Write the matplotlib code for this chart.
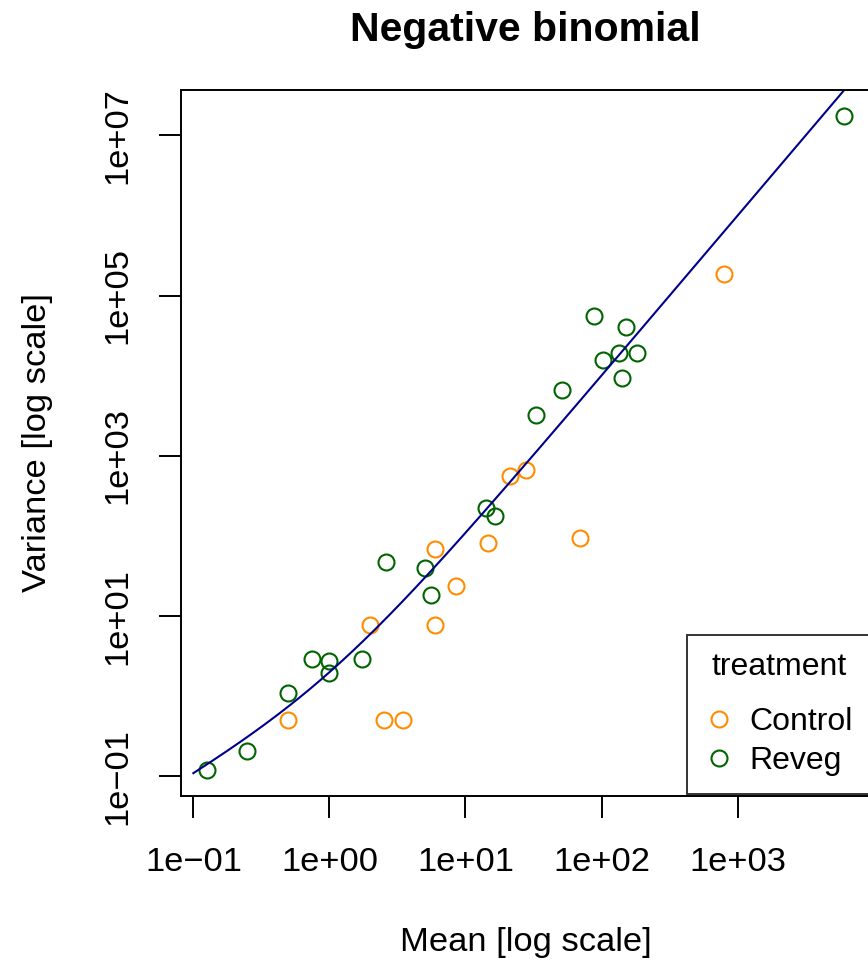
import numpy as np
import matplotlib
matplotlib.use('Agg')
import matplotlib.pyplot as plt
from matplotlib.lines import Line2D

plt.rcParams['font.family'] = ['Liberation Sans', 'DejaVu Sans']

# per-plot mean and variance, by treatment
control_mean = [0.5, 2.5, 3.5, 2.0, 6.0, 6.0, 8.57, 14.7, 21.2, 27.7, 69.8, 796]
control_var = [0.5, 0.5, 0.5, 7.83, 7.83, 69.6, 23.6, 81.8, 561, 661, 94.4, 185000]
reveg_mean = [0.125, 0.25, 0.5, 0.75, 1.0, 1.0, 1.75, 2.625, 5.0, 5.625, 14.25, 16.5,
              32.75, 51, 88, 103, 135, 142, 151, 182, 6095]
reveg_var = [0.121, 0.207, 1.11, 2.95, 2.78, 1.95, 2.95, 47.9, 40.4, 18.5, 224, 176,
             3213, 6590, 55300, 15900, 19300, 9400, 40600, 19500, 1.74e7]
groups = ['Control', 'Reveg']
colors = ['darkorange', 'darkgreen']
phi = 1.0  # NB overdispersion: var = mu + phi*mu^2

xticks = [0.1, 1, 10, 100, 1000]
xticklabels = ['1e\u221201', '1e+00', '1e+01', '1e+02', '1e+03']
yticks = [0.1, 10, 1e3, 1e5, 1e7]
yticklabels = ['1e\u221201', '1e+01', '1e+03', '1e+05', '1e+07']

FS = 24.8
W, H = 868, 964
fig = plt.figure(figsize=(W/100, H/100), dpi=100)
# plot region in pixels: x 181..870, y 90..796
ax = fig.add_axes([181/W, (H-796)/H, (870-181)/W, (796-90)/H])

for m, v, col in zip([control_mean, reveg_mean], [control_var, reveg_var], colors):
    ax.plot(m, v, 'o', ms=11.5, mfc='none', mec=col, mew=1.5, ls='none')

mu = np.logspace(-1, 4.2, 400)
ax.plot(mu, mu + phi*mu**2, color='darkblue', lw=1.5)

ax.set_xscale('log')
ax.set_yscale('log')

# R style limits: 4% extension of the data range
allx = np.log10(control_mean + reveg_mean)
ally = np.log10(control_var + reveg_var)
px = 0.04*(allx.max()-allx.min())
py = 0.04*(ally.max()-ally.min())
ax.set_xlim(10**(allx.min()-px), 10**(allx.max()+px))
ax.set_ylim(10**(ally.min()-py), 10**(ally.max()+py))

ax.set_xticks(xticks)
ax.set_xticklabels(xticklabels)
ax.set_yticks(yticks)
ax.set_yticklabels(yticklabels, rotation=90, va='center')
ax.minorticks_off()
ax.tick_params(length=15.5, width=1.4, labelsize=FS)
ax.tick_params(axis='x', pad=21)
ax.tick_params(axis='y', pad=19)
for s in ax.spines.values():
    s.set_linewidth(1.4)

fig.text(525/W, 1-30/H, 'Negative binomial', ha='center', va='center',
         fontsize=29.5, fontweight='bold')
fig.text(526/W, 1-942/H, 'Mean [log scale]', ha='center', va='center', fontsize=FS)
fig.text(38/W, 1-443/H, 'Variance [log scale]', ha='center', va='center',
         fontsize=FS, rotation=90)

handles = [Line2D([], [], marker='o', ls='none', mfc='none', mec=c, ms=11.5, mew=1.5)
           for c in colors]
leg = ax.legend(handles, groups, title='treatment', loc='lower right',
                bbox_to_anchor=(1.0, 0.003), fontsize=23, title_fontsize=23,
                frameon=True, fancybox=False, edgecolor='black', borderpad=0.55,
                handlelength=0.88, handletextpad=0.5, labelspacing=0.28,
                borderaxespad=0)
leg.get_frame().set_linewidth(1.4)
leg._legend_box.sep = 18  # extra gap under the title, in points

fig.savefig('out.png', dpi=100)
